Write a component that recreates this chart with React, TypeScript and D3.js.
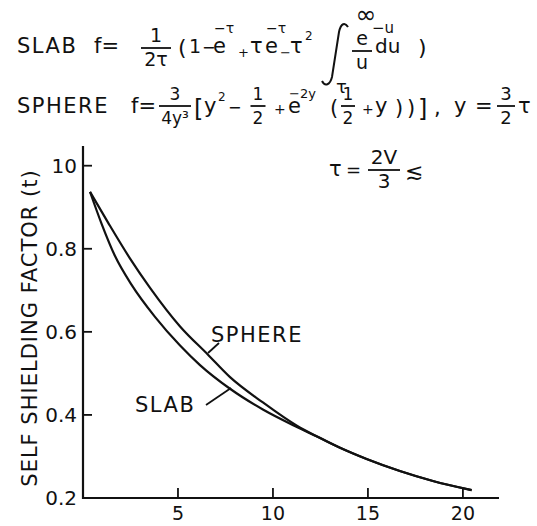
import React from "react";
import * as d3 from "d3";

// values
const sphereTau = [0.37, 1.32, 2.47, 3.53, 5.11, 6.58, 7.74, 9.47, 11.26, 12.32];
const sphereF = [0.937, 0.863, 0.777, 0.706, 0.613, 0.545, 0.491, 0.43, 0.374, 0.348];
const slabTau = [0.37, 0.98, 1.68, 2.56, 3.79, 5.11, 6.16, 7.74, 9.47, 11.26, 12.32];
const slabF = [0.937, 0.86, 0.783, 0.713, 0.636, 0.567, 0.52, 0.463, 0.413, 0.371, 0.348];
// common tail after the two curves meet
const tailTau = [13.53, 14.93, 16.68, 18.42, 20.46];
const tailF = [0.321, 0.294, 0.265, 0.241, 0.219];

const xTicks = [5, 10, 15, 20];
const yTicks = [1.0, 0.8, 0.6, 0.4, 0.2];
const yTickLabels = ["10", "0.8", "0.6", "0.4", "0.2"];

const FONT = "DejaVu Sans";
const INK = "#111";

const T = ({ x, y, s = 21, a = "start", ls = 0, children }: any) => (
  <text x={x} y={y} fontSize={s} textAnchor={a} letterSpacing={ls} fill={INK} fontFamily={FONT}>
    {children}
  </text>
);

const Frac = ({ cx, top, bot, y, w, s = 18 }: any) => (
  <g>
    <T x={cx} y={y - 6} s={s} a="middle">{top}</T>
    <line x1={cx - w / 2} x2={cx + w / 2} y1={y} y2={y} stroke={INK} strokeWidth={1.8} />
    <T x={cx} y={y + 18} s={s} a="middle">{bot}</T>
  </g>
);

export default function App() {
  const width = 537;
  const height = 526;
  const x = d3.scaleLinear().domain([0, 21.9]).range([83, 499]);
  const y = d3.scaleLinear().domain([0.2, 1.045]).range([498, 147]);

  const line = d3
    .line<number[]>()
    .x((d) => x(d[0]))
    .y((d) => y(d[1]))
    .curve(d3.curveMonotoneX);

  const tail = tailTau.map((t, i) => [t, tailF[i]]);
  const sphere = sphereTau.map((t, i) => [t, sphereF[i]]).concat(tail);
  const slab = slabTau.map((t, i) => [t, slabF[i]]).concat(tail);

  return (
    <svg width={width} height={height} style={{ position: "absolute", left: 0, top: 0, background: "#fff" }}>
      {/* slab formula */}
      <T x={17} y={53} ls={1.5}>SLAB</T>
      <T x={94} y={53}>f=</T>
      <Frac cx={156} y={48} w={30} top="1" bot="2τ" s={19} />
      <T x={178} y={55} s={22}>(</T>
      <T x={189} y={53} s={19}>1</T>
      <T x={202} y={53} s={16}>−</T>
      <T x={213} y={53}>e</T>
      <T x={214} y={33} s={14}>−τ</T>
      <T x={238} y={57} s={13}>+</T>
      <T x={250} y={53}>τ</T>
      <T x={265} y={53}>e</T>
      <T x={266} y={33} s={14}>−τ</T>
      <T x={280} y={57} s={13}>−</T>
      <T x={290} y={53}>τ</T>
      <T x={305} y={40} s={12}>2</T>
      <path d="M322,81 C325,87 330,85 332,77 L339,32 C341,23 345,22 348,27" fill="none" stroke={INK} strokeWidth={2} />
      <T x={366} y={23} s={25} a="middle">∞</T>
      <T x={336} y={93} s={18}>τ</T>
      <Frac cx={362} y={51} w={20} top="e" bot="u" s={19} />
      <T x={372} y={33} s={15}>−u</T>
      <T x={375} y={53} s={20}>du</T>
      <T x={418} y={55} s={22}>)</T>

      {/* sphere formula */}
      <T x={17} y={113} ls={1.5}>SPHERE</T>
      <T x={131} y={113}>f=</T>
      <Frac cx={175} y={106} w={32} top="3" bot="4y³" s={17} />
      <T x={194} y={117} s={24}>[</T>
      <T x={204} y={113}>y</T>
      <T x={218} y={101} s={12}>2</T>
      <T x={228} y={113} s={16}>−</T>
      <Frac cx={258} y={106} w={15} top="1" bot="2" s={17} />
      <T x={274} y={114} s={14}>+</T>
      <T x={288} y={113}>e</T>
      <T x={289} y={98} s={13}>−2y</T>
      <T x={330} y={115} s={21}>(</T>
      <Frac cx={348} y={106} w={14} top="1" bot="2" s={17} />
      <T x={362} y={114} s={14}>+</T>
      <T x={375} y={113}>y</T>
      <T x={395} y={115} s={21}>)</T>
      <T x={407} y={115} s={21}>)</T>
      <T x={418} y={117} s={24}>]</T>
      <T x={434} y={115}>,</T>
      <T x={454} y={113}>y</T>
      <T x={475} y={113}>=</T>
      <Frac cx={506} y={106} w={18} top="3" bot="2" s={18} />
      <T x={518} y={113}>τ</T>

      {/* tau definition */}
      <T x={329} y={176}>τ</T>
      <T x={346} y={176} s={18}>=</T>
      <Frac cx={384} y={170} w={32} top="2V" bot="3" s={20} />
      <T x={405} y={179} s={22}>≲</T>

      {/* axes */}
      <line x1={x(0)} x2={x(0)} y1={146} y2={y(0.2) + 1} stroke={INK} strokeWidth={2.2} />
      <line x1={x(0) - 1} x2={499} y1={y(0.2)} y2={y(0.2)} stroke={INK} strokeWidth={2.2} />
      {yTicks.map((t, i) => (
        <g key={t}>
          {t > 0.2 && <line x1={x(0)} x2={x(0) + 9} y1={y(t)} y2={y(t)} stroke={INK} strokeWidth={1.8} />}
          <T x={77} y={y(t) + 7} s={20} a="end">{yTickLabels[i]}</T>
        </g>
      ))}
      {xTicks.map((t) => (
        <g key={t}>
          <line x1={x(t)} x2={x(t)} y1={y(0.2)} y2={y(0.2) - 10} stroke={INK} strokeWidth={1.8} />
          <T x={x(t)} y={520} s={19} a="middle">{t}</T>
        </g>
      ))}
      <g transform="translate(37,328) rotate(-90)">
        <T x={0} y={0} s={21} a="middle" ls={1}>SELF SHIELDING FACTOR (t)</T>
      </g>

      {/* curves */}
      <path d={line(sphere) ?? ""} fill="none" stroke={INK} strokeWidth={2.2} />
      <path d={line(slab) ?? ""} fill="none" stroke={INK} strokeWidth={2.2} />

      {/* curve labels */}
      <T x={211} y={342} ls={1.5}>SPHERE</T>
      <line x1={219} y1={343} x2={208} y2={353} stroke={INK} strokeWidth={1.8} />
      <T x={135} y={412} ls={1.5}>SLAB</T>
      <line x1={206} y1={405} x2={231} y2={388} stroke={INK} strokeWidth={1.8} />
    </svg>
  );
}
